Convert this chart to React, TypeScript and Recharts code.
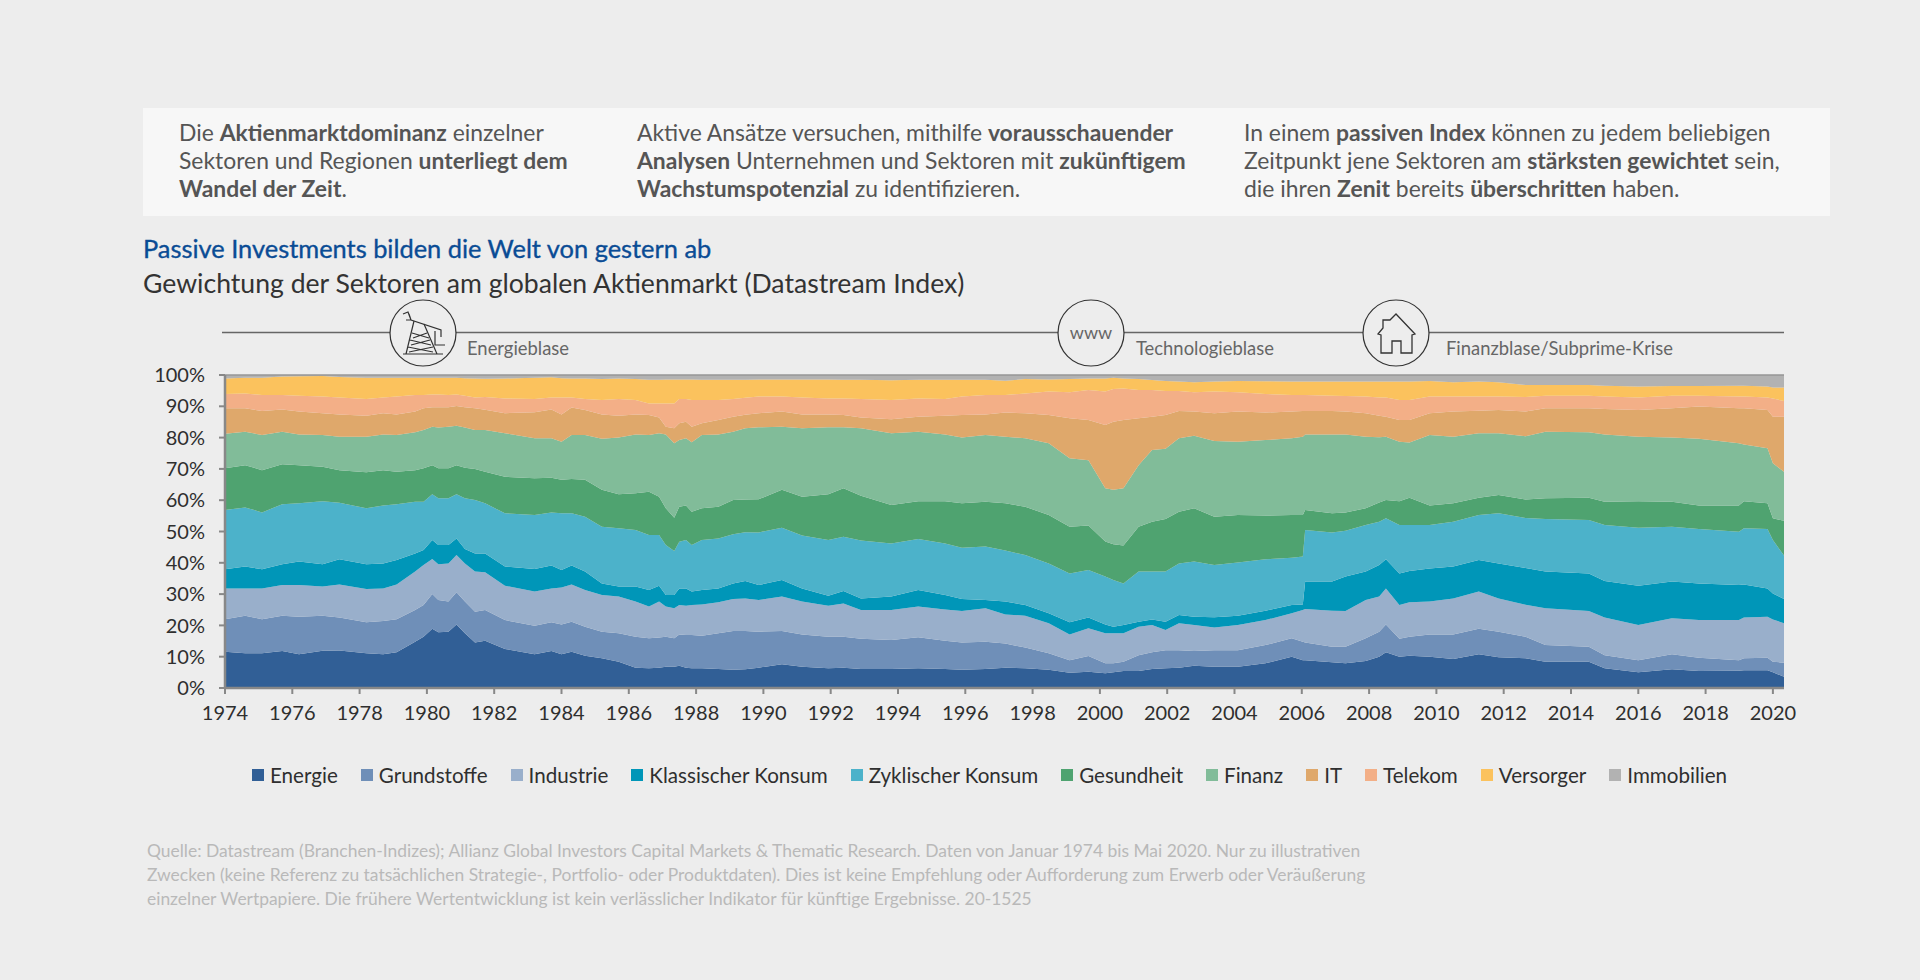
import React from 'react';
import { AreaChart, Area, XAxis, YAxis, Legend, ReferenceLine } from 'recharts';

const FONT = 'Lato, sans-serif';

const years = [1974.0,1974.6,1975.1,1975.7,1976.2,1976.9,1977.4,1978.2,1978.7,1979.1,1979.65,1979.9,1980.16,1980.34,1980.64,1980.88,1981.13,1981.43,1981.73,1982.32,1983.2,1983.7,1984.0,1984.3,1984.7,1985.2,1985.7,1986.2,1986.6,1986.9,1987.1,1987.35,1987.5,1987.7,1987.87,1988.17,1988.66,1989.1,1989.46,1989.86,1990.55,1991.15,1991.93,1992.38,1992.9,1993.8,1994.6,1995.4,1995.9,1996.6,1997.19,1997.78,1998.48,1999.1,1999.66,2000.16,2000.4,2000.7,2001.15,2001.55,2001.95,2002.35,2002.8,2003.4,2004.1,2004.92,2005.7,2006.03,2006.1,2006.9,2007.3,2007.9,2008.3,2008.5,2008.9,2009.2,2009.8,2010.5,2011.26,2011.85,2012.65,2013.24,2014.53,2015.0,2016.0,2017.0,2017.8,2018.99,2019.14,2019.84,2020.0,2020.33];

// Upper edge of each band in percent (cumulative weight).
const upToEnergie = [11.6,11.1,11.1,11.8,10.8,11.9,12.0,11.1,10.8,11.4,14.8,16.4,18.9,17.8,18.0,20.3,17.5,14.5,15.1,12.5,10.8,11.8,10.8,11.6,10.3,9.5,8.4,6.5,6.3,6.5,6.8,6.8,7.1,6.5,6.3,6.3,6.1,5.8,6.0,6.5,7.6,6.8,6.3,6.5,6.1,6.1,6.3,6.1,5.8,6.1,6.5,6.3,5.8,4.9,5.2,4.7,5.0,5.4,5.4,6.1,6.3,6.5,7.1,6.8,6.8,7.9,10.0,8.9,8.9,8.2,7.9,8.6,10.0,11.4,10.0,10.3,10.0,9.3,10.8,9.8,9.5,8.4,8.4,6.3,5.0,6.0,5.4,5.5,5.7,5.7,5.0,3.6];
const upToGrundstoffe = [22.0,23.1,22.0,23.1,22.8,23.1,22.5,21.0,21.4,22.0,24.9,26.5,30.0,28.1,27.6,30.6,27.6,24.4,24.9,21.7,19.9,21.0,20.3,21.2,19.6,18.0,17.5,16.4,15.9,16.1,16.4,15.9,17.1,16.9,16.9,16.7,17.5,18.2,18.2,18.0,18.2,17.1,16.4,16.4,15.7,15.3,16.2,15.1,14.5,14.8,14.2,12.9,11.1,8.9,10.2,7.9,7.9,8.4,10.5,11.4,12.1,12.1,11.8,12.1,12.1,13.7,15.9,14.8,14.5,13.2,13.2,15.9,18.0,20.3,15.7,16.4,17.1,17.1,18.9,18.0,16.4,13.7,13.2,10.5,8.9,10.8,9.7,8.9,9.5,9.7,8.4,8.1];
const upToIndustrie = [31.8,31.8,31.8,32.9,32.9,32.4,33.1,31.6,31.8,33.1,37.2,39.3,41.2,39.5,39.8,42.5,39.8,37.2,37.0,32.7,30.8,31.8,32.1,33.1,31.3,29.7,29.2,27.6,26.0,27.6,26.0,25.5,26.5,26.3,26.5,26.7,27.4,28.4,28.6,28.1,29.2,27.6,26.3,27.0,24.9,24.9,26.0,25.1,24.6,25.5,23.5,23.1,20.7,17.1,19.1,17.5,17.5,17.5,19.6,20.1,18.5,20.7,20.1,19.3,20.1,21.7,23.9,24.9,25.2,24.7,24.6,28.1,29.2,31.8,26.5,27.4,27.6,28.6,30.8,28.6,26.6,25.5,24.6,22.5,20.1,22.3,21.7,21.7,22.5,22.8,21.9,20.7];
const upToKlassisch = [37.9,38.8,37.9,39.5,40.4,39.5,41.1,39.5,39.8,40.9,43.0,44.1,47.3,45.7,45.7,47.8,44.4,43.0,43.0,38.8,38.0,39.1,37.7,39.1,37.2,33.4,32.4,32.4,31.3,32.7,29.7,29.7,31.8,31.8,30.8,31.3,31.8,33.4,34.2,32.9,34.5,31.8,29.5,31.0,28.6,29.2,31.3,29.7,28.4,28.1,27.6,26.5,23.9,21.0,22.5,20.3,19.6,20.1,21.2,21.9,21.2,23.3,22.8,22.6,23.1,24.7,26.5,26.7,34.0,34.0,35.6,37.2,39.3,41.1,36.6,37.4,38.2,38.8,40.9,39.8,38.3,37.2,36.6,34.2,32.7,34.0,33.4,32.9,33.1,31.8,30.2,28.4];
const upToZyklisch = [56.9,57.7,56.1,58.7,59.0,59.7,59.2,57.4,58.3,58.7,59.5,59.5,61.9,60.6,60.6,61.9,60.6,60.1,59.0,55.8,55.3,56.1,55.8,55.8,54.7,51.5,51.0,50.5,48.9,48.9,45.7,43.8,46.7,47.3,45.7,47.3,47.8,49.1,49.8,49.7,51.2,48.7,47.3,48.3,47.1,46.2,47.6,46.2,44.8,45.2,43.9,42.5,39.8,36.6,37.7,35.6,34.5,33.4,37.2,37.2,37.2,39.8,40.4,39.3,40.1,41.1,41.6,42.0,50.5,49.7,50.2,52.1,53.1,54.2,52.1,52.1,52.1,53.1,55.3,55.8,54.3,54.0,53.7,52.1,51.2,51.5,50.8,49.9,51.0,50.8,47.3,42.3];
const upToGesundheit = [70.2,71.2,69.6,71.5,71.2,70.7,69.6,68.9,69.6,69.1,69.6,70.2,71.2,70.2,70.2,71.2,70.4,70.0,69.1,67.5,67.0,67.2,66.5,66.8,66.5,63.3,61.9,62.2,62.7,61.1,57.4,54.4,57.9,58.3,56.3,57.4,57.9,60.1,60.2,60.3,63.3,61.1,61.9,63.8,61.4,58.5,59.7,59.7,59.0,59.5,59.0,57.9,55.3,51.5,51.9,46.8,45.9,45.5,51.5,53.1,54.0,56.3,57.4,54.7,55.3,55.1,55.3,55.3,56.9,55.8,56.1,57.4,59.3,60.1,59.7,60.8,58.3,59.0,60.8,61.7,60.2,60.6,60.8,59.5,59.7,59.5,58.3,58.3,59.7,59.0,54.2,53.4];
const upToFinanz = [81.2,81.9,80.8,81.9,81.0,80.8,80.3,80.3,81.0,80.8,81.7,82.4,83.5,83.2,83.5,83.8,83.2,82.4,82.4,81.4,79.8,79.8,78.7,80.8,80.8,79.6,80.0,81.0,80.8,81.4,81.0,78.2,79.2,79.8,78.5,80.8,81.0,81.9,83.0,83.3,83.5,83.0,83.3,83.3,83.0,81.4,81.9,81.0,80.0,80.8,80.3,79.8,78.2,73.4,72.8,63.8,63.3,63.8,71.2,76.0,76.4,79.8,80.6,78.9,78.7,79.2,79.8,80.3,81.0,81.0,81.0,80.3,80.1,80.3,78.7,78.4,80.8,80.3,81.4,81.4,80.4,81.9,81.7,81.0,80.3,80.0,79.6,78.2,77.8,76.6,71.8,69.1];
const upToIT = [89.4,89.4,88.5,89.0,88.3,87.8,87.4,87.0,87.8,87.4,88.3,89.4,89.7,89.7,89.7,90.1,89.7,89.4,88.9,87.8,88.1,89.0,87.4,89.6,88.8,87.4,87.0,87.4,87.2,86.4,83.5,83.0,84.6,85.1,83.5,84.6,85.6,86.7,87.3,87.8,88.3,87.4,87.4,87.2,86.4,85.9,86.7,87.0,87.2,87.4,88.0,87.8,87.2,86.2,85.6,84.0,85.1,85.6,86.2,86.7,87.2,88.5,88.3,87.8,88.3,88.0,88.3,88.5,88.5,88.5,88.3,87.8,87.0,86.7,85.6,85.6,87.8,88.3,88.6,88.8,88.3,89.4,89.4,89.1,88.8,89.4,89.9,89.4,89.4,88.8,86.7,86.7];
const upToTelekom = [93.9,94.1,93.6,93.6,93.4,93.1,92.8,92.3,92.8,93.1,93.6,93.6,93.8,93.8,93.6,93.8,93.4,92.8,93.0,92.5,92.3,92.8,92.8,92.8,92.3,92.0,92.3,92.0,90.9,90.9,90.9,90.9,92.3,92.3,92.0,92.0,92.0,92.3,92.7,93.1,93.1,92.8,92.5,92.5,92.3,92.0,92.5,92.3,93.1,93.6,93.6,94.1,94.7,94.5,95.2,94.7,95.5,95.7,95.2,95.2,94.9,94.9,94.5,94.7,94.5,93.9,93.6,93.6,93.6,93.4,93.3,93.1,92.8,92.8,92.0,92.0,93.1,93.1,93.1,93.1,93.0,93.4,93.4,93.1,92.8,93.4,93.4,93.1,93.1,92.8,92.5,91.7];
const upToVersorger = [98.9,99.1,99.1,99.5,99.6,99.7,99.4,99.1,99.1,99.1,99.1,99.1,99.1,99.1,99.1,99.1,99.0,98.9,98.8,98.9,99.1,99.3,99.0,98.9,98.9,98.7,98.9,98.7,98.5,98.5,98.6,98.6,98.6,98.6,98.6,98.5,98.5,98.5,98.5,98.6,98.6,98.6,98.6,98.5,98.5,98.3,98.5,98.5,98.5,98.5,98.2,98.7,98.6,98.7,98.9,98.9,99.1,98.9,98.7,98.4,98.1,97.9,97.7,97.9,98.1,98.0,97.9,97.9,97.9,97.9,97.9,97.9,97.9,97.9,97.9,97.9,98.1,97.7,97.9,97.7,96.8,96.8,96.8,96.6,96.3,96.5,96.5,96.6,96.6,96.3,96.0,96.0];
const upToImmobilien = years.map(() => 100);

const sectorNames = ['Energie','Grundstoffe','Industrie','Klassischer Konsum','Zyklischer Konsum','Gesundheit','Finanz','IT','Telekom','Versorger','Immobilien'];
const sectorColors = ['#315F96','#6F8FB8','#99AFCB','#0096B8','#4CB2CA','#4FA370','#81BC99','#DFA86B','#F3AF87','#FBC25D','#B2B2B2'];
const edges = [upToEnergie,upToGrundstoffe,upToIndustrie,upToKlassisch,upToZyklisch,upToGesundheit,upToFinanz,upToIT,upToTelekom,upToVersorger,upToImmobilien];

const xTicks = [1974,1976,1978,1980,1982,1984,1986,1988,1990,1992,1994,1996,1998,2000,2002,2004,2006,2008,2010,2012,2014,2016,2018,2020];
const yTicks = [0,10,20,30,40,50,60,70,80,90,100];

const tableRows = years.map((year, i) => {
  const row: Record<string, number> = { year };
  sectorNames.forEach((name, s) => {
    row[name] = +(edges[s][i] - (s ? edges[s - 1][i] : 0)).toFixed(1);
  });
  return row;
});

const columns: React.ReactNode[][] = [
  [<>Die <b>Aktienmarktdominanz</b> einzelner</>, <>Sektoren und Regionen <b>unterliegt dem</b></>, <><b>Wandel der Zeit</b>.</>],
  [<>Aktive Ansätze versuchen, mithilfe <b>vorausschauender</b></>, <><b>Analysen</b> Unternehmen und Sektoren mit <b>zukünftigem</b></>, <><b>Wachstumspotenzial</b> zu identifizieren.</>],
  [<>In einem <b>passiven Index</b> können zu jedem beliebigen</>, <>Zeitpunkt jene Sektoren am <b>stärksten gewichtet</b> sein,</>, <>die ihren <b>Zenit</b> bereits <b>überschritten</b> haben.</>],
];
const columnLeft = [179, 637, 1244];

const bubbles = [
  { label: 'Energieblase', cx: 423, textX: 467 },
  { label: 'Technologieblase', cx: 1091, textX: 1136 },
  { label: 'Finanzblase/Subprime-Krise', cx: 1396, textX: 1446 },
];

const footnotes = [
  'Quelle: Datastream (Branchen-Indizes); Allianz Global Investors Capital Markets & Thematic Research. Daten von Januar 1974 bis Mai 2020. Nur zu illustrativen',
  'Zwecken (keine Referenz zu tatsächlichen Strategie-, Portfolio- oder Produktdaten). Dies ist keine Empfehlung oder Aufforderung zum Erwerb oder Veräußerung',
  'einzelner Wertpapiere. Die frühere Wertentwicklung ist kein verlässlicher Indikator für künftige Ergebnisse. 20-1525',
];

function LegendRow({ payload }: any) {
  return (
    <div style={{ display: 'flex', justifyContent: 'flex-start', fontFamily: FONT, fontSize: 20.6, lineHeight: '26px', color: '#2f2f2f', whiteSpace: 'nowrap' }}>
      {(payload || []).map((p: any) => (
        <div key={p.value} style={{ display: 'flex', alignItems: 'center', marginRight: 23 }}>
          <span style={{ width: 12, height: 12, background: p.color, marginRight: 6, display: 'inline-block' }} />
          {p.value}
        </div>
      ))}
    </div>
  );
}

function Timeline() {
  return (
    <svg width={1920} height={400} style={{ position: 'absolute', left: 0, top: 0 }}>
      <line x1={222} x2={1784} y1={332.5} y2={332.5} stroke="#666" strokeWidth={1.6} />
      {bubbles.map((b) => (
        <g key={b.label}>
          <circle cx={b.cx} cy={333} r={33} fill="#EDEDED" stroke="#333" strokeWidth={1.2} />
          <text x={b.textX} y={355} fontFamily={FONT} fontSize={18.4} fill="#666">{b.label}</text>
        </g>
      ))}
      <g transform="translate(423 333)" fill="none" stroke="#333" strokeWidth={1.2}>
        <path d="M-20 -19 L-15 -21 L-12 -13 L18 -3 L18 4 M-17 -13 L-12 -13 L-14 -19" />
        <path d="M-9 -12 L-17 21 M1 -9 L14 21 M-20 21 L20 21 M-15 14 L10 19 M10 14 L-14 19 M-13 7 L8 12 M7 7 L-12 12 M-11 0 L6 5 M4 0 L-10 5" />
        <path d="M12 -2 L12 12 L22 12" />
      </g>
      <text x={1091} y={339} textAnchor="middle" fontFamily={FONT} fontSize={18} fill="#666">www</text>
      <path transform="translate(1396 333)" fill="none" stroke="#333" strokeWidth={1.3}
        d="M-15 20 L-15 2 L-18 1 L-13 -5 L-13 -13 L-6 -13 L0 -19 L19 1 L16 2 L16 20 L5 20 L5 8 L-4 8 L-4 20 Z" />
    </svg>
  );
}

export default function App() {
  return (
    <div style={{ position: 'absolute', left: 0, top: 0, width: 1920, height: 980, background: '#EDEDED', overflow: 'hidden', fontFamily: FONT }}>
      <div style={{ position: 'absolute', left: 143, top: 108, width: 1687, height: 108, background: '#F7F7F7' }} />
      {columns.map((lines, c) => (
        <div key={c} style={{ position: 'absolute', left: columnLeft[c], top: 118, fontSize: 22.9, lineHeight: '28px', color: '#555', whiteSpace: 'nowrap' }}>
          {lines.map((l, i) => <div key={i}>{l}</div>)}
        </div>
      ))}
      <div style={{ position: 'absolute', left: 143, top: 233, fontSize: 25.4, lineHeight: '30px', color: '#0A4C95', WebkitTextStroke: '0.35px #0A4C95', whiteSpace: 'nowrap' }}>
        Passive Investments bilden die Welt von gestern ab
      </div>
      <div style={{ position: 'absolute', left: 143, top: 267, fontSize: 26.6, lineHeight: '32px', color: '#333', whiteSpace: 'nowrap' }}>
        Gewichtung der Sektoren am globalen Aktienmarkt (Datastream Index)
      </div>
      <Timeline />
      <div style={{ position: 'absolute', left: 140, top: 365 }}>
        <AreaChart width={1660} height={440} data={tableRows} stackOffset="none" margin={{ top: 10, right: 16, bottom: 0, left: 0 }}>
          <XAxis dataKey="year" type="number" domain={[1974, 2020.33]} ticks={xTicks} interval={0} allowDataOverflow
            tick={{ fontFamily: FONT, fontSize: 20, fill: '#2f2f2f' }} tickLine={{ stroke: '#888', strokeWidth: 2 }} tickSize={6} tickMargin={12}
            axisLine={{ stroke: '#888', strokeWidth: 2.5 }} height={47} />
          <YAxis domain={[0, 100]} ticks={yTicks} interval={0} width={85} tickFormatter={(v: number) => `${v}%`}
            tick={{ fontFamily: FONT, fontSize: 20, fill: '#2f2f2f' }} tickLine={{ stroke: '#888', strokeWidth: 2 }} tickSize={6} tickMargin={14}
            axisLine={{ stroke: '#888', strokeWidth: 2.5 }} />
          {sectorNames.map((name, s) => (
            <Area key={name} dataKey={name} name={name} stackId="sectors" type="linear" fill={sectorColors[s]} fillOpacity={1}
              stroke="none" isAnimationActive={false} dot={false} activeDot={false} />
          ))}
          <ReferenceLine y={100} stroke="#969696" strokeWidth={1.5} />
          <Legend verticalAlign="bottom" align="left" height={70} content={<LegendRow />} itemSorter={null}
            wrapperStyle={{ left: 112, width: 1520, top: 397, bottom: 'auto' }} />
        </AreaChart>
      </div>
      <div style={{ position: 'absolute', left: 147, top: 839, fontSize: 17.45, lineHeight: '24px', color: '#B9B9B9', whiteSpace: 'nowrap' }}>
        {footnotes.map((f, i) => <div key={i}>{f}</div>)}
      </div>
    </div>
  );
}
